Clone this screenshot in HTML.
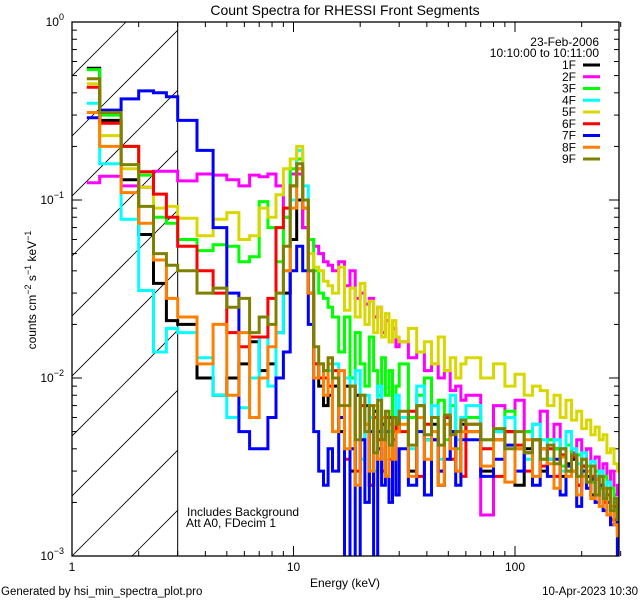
<!DOCTYPE html>
<html><head><meta charset="utf-8">
<style>
html,body{margin:0;padding:0;background:#fff;}
svg{display:block;font-family:"Liberation Sans",sans-serif;}
</style></head>
<body>
<svg id="chart" width="640" height="600" viewBox="0 0 640 600" xmlns="http://www.w3.org/2000/svg">
<defs><clipPath id="plotclip"><rect x="72" y="22" width="547" height="534"/></clipPath>
<clipPath id="hatchclip"><rect x="72" y="22" width="105.7" height="534"/></clipPath></defs>
<rect x="0" y="0" width="640" height="600" fill="#fff"/>
<text x="345" y="15" font-size="14" text-anchor="middle">Count Spectra for RHESSI Front Segments</text>
<g id="hatch" clip-path="url(#hatchclip)"></g>
<g id="axes"></g>
<g id="series" clip-path="url(#plotclip)"></g>
<rect x="72" y="22" width="547" height="534" fill="none" stroke="#000" stroke-width="1.3"/>
<g id="legend"></g>
<text transform="translate(36,290) rotate(-90)" font-size="12" text-anchor="middle">counts cm<tspan dy="-5" font-size="9">−2</tspan><tspan dy="5"> s</tspan><tspan dy="-5" font-size="9">−1</tspan><tspan dy="5"> keV</tspan><tspan dy="-5" font-size="9">−1</tspan></text>
<text x="345" y="587" font-size="12" text-anchor="middle">Energy (keV)</text>
<text x="187" y="516" font-size="12">Includes Background</text>
<text x="186" y="527" font-size="12">Att A0, FDecim 1</text>
<text x="1" y="595" font-size="11.5">Generated by hsi_min_spectra_plot.pro</text>
<text x="638" y="595" font-size="11.5" text-anchor="end">10-Apr-2023 10:30</text>
</svg>
<script>
// ---- data ----
const binSpec = [[1.0,1/3,6],[3.0,2/3,18],[15,1,15],[30,3,10],[60,10,24]];
const segNames = ['1F','2F','3F','4F','5F','6F','7F','8F','9F'];
const segColors = ['#000000','#ff00ff','#00ff00','#00ffff','#d8d800','#ff0000','#0000ff','#ff8000','#808000'];
const s1F = [.55,.28,.13,.064,.034,.021,.02,.01,.008,.01,.012,.016,.011,.012,.018,.03,.06,.1,.07,.03,.012,.009,.007,.008,
 .009,.005,.009,.003,.008,.0045,.007,.0025,.0065,.005,.0055,.0028,.006,.0035,.005,
 .006,.003,.007,.0045,.0055,.0025,.006,.005,.003,.0055,
 .005,.003,.0045,.005,.0025,.004,.0045,.003,.0035,.004,.0028,.0033,.0035,.0025,.0032,.0028,.0022,.0027,.0025,.002,.0022,.0016,.0021,.0015];
const s2F = [.125,.136,.12,.118,.145,.145,.128,.14,.138,.13,.12,.138,.135,.14,.12,.08,.14,.14,.07,.06,.055,.05,.045,.043,
 .04,.045,.033,.04,.028,.03,.026,.028,.022,.025,.018,.021,.016,.019,.015,
 .016,.013,.014,.011,.012,.01,.011,.0085,.009,.0075,
 .008,.0017,.007,.006,.0075,.005,.0055,.0065,.0045,.0055,.004,.005,.0038,.0045,.0035,.004,.0032,.0036,.0028,.0033,.0026,.003,.0022,.0025];
const s3F = [.54,.3,.2,.138,.08,.074,.06,.052,.056,.055,.045,.048,.098,.07,.045,.08,.15,.17,.1,.06,.04,.03,.028,.025,
 .022,.014,.022,.01,.018,.012,.009,.017,.011,.008,.013,.008,.011,.006,.009,
 .012,.006,.008,.01,.005,.0075,.0045,.007,.004,.006,
 .006,.0045,.005,.0065,.004,.005,.0045,.0035,.0045,.004,.0032,.0042,.003,.0037,.0028,.0032,.0026,.003,.0024,.0028,.002,.0024,.0018,.002];
const s4F = [.35,.16,.078,.031,.014,.019,.018,.013,.008,.006,.0068,.01,.017,.009,.018,.04,.1,.19,.12,.04,.012,.012,.011,.011,
 .012,.006,.01,.004,.011,.0035,.008,.006,.003,.009,.005,.0035,.005,.006,.008,
 .006,.004,.009,.0045,.007,.0035,.006,.008,.0045,.006,
 .007,.004,.005,.006,.004,.0035,.0055,.0045,.0035,.0045,.003,.005,.004,.0033,.0038,.003,.0034,.0028,.003,.0022,.0026,.0019,.0021,.0016];
const s5F = [.45,.23,.15,.118,.09,.092,.079,.063,.078,.085,.06,.063,.09,.08,.107,.15,.17,.2,.1,.05,.042,.04,.035,.033,
 .03,.042,.024,.032,.022,.034,.02,.027,.018,.025,.017,.023,.016,.021,.017,
 .016,.019,.014,.016,.012,.017,.011,.013,.01,.012,
 .013,.01,.012,.009,.0105,.008,.009,.0085,.007,.008,.006,.0075,.0058,.0065,.0052,.0058,.0048,.0053,.0045,.0048,.0038,.004,.0033,.003];
const s6F = [.43,.27,.2,.144,.108,.08,.055,.04,.03,.018,.015,.017,.017,.028,.07,.09,.12,.15,.09,.03,.012,.01,.01,.009,
 .011,.006,.0035,.009,.003,.007,.0055,.0025,.006,.0045,.003,.006,.0035,.005,.0055,
 .005,.0065,.0028,.0055,.0045,.003,.006,.0035,.005,.0028,
 .0055,.004,.0028,.005,.0042,.003,.0045,.0032,.004,.0028,.0037,.003,.0036,.0025,.0032,.0026,.0028,.0022,.0025,.002,.0022,.0016,.0019,.0014];
const s7F = [.29,.32,.37,.41,.40,.38,.28,.19,.07,.03,.005,.004,.004,.006,.01,.014,.04,.055,.04,.02,.005,.003,.0025,.004,
 .003,.006,.0008,.004,.0006,.0045,.002,.005,.0007,.004,.0025,.005,.002,.0045,.0022,
 .004,.0025,.005,.0022,.0045,.003,.0035,.005,.0025,.0045,
 .0045,.0028,.0035,.0042,.003,.0038,.0025,.004,.0028,.0035,.0022,.0032,.003,.0019,.003,.0024,.0027,.002,.0025,.0018,.002,.0015,.0016,.0009];
const s8F = [.31,.2,.11,.074,.046,.028,.022,.012,.02,.008,.018,.006,.01,.015,.03,.04,.09,.15,.09,.03,.01,.012,.008,.012,
 .005,.011,.004,.009,.0025,.008,.0055,.003,.007,.0035,.006,.0028,.0055,.0035,.005,
 .0055,.0028,.006,.0035,.005,.0025,.0055,.004,.003,.005,
 .005,.0032,.0045,.0026,.004,.0045,.0028,.004,.0033,.0024,.0036,.0028,.003,.0022,.0028,.003,.0021,.0027,.0019,.0024,.0017,.0019,.0015,.0013];
const s9F = [.48,.31,.158,.092,.05,.043,.04,.03,.032,.025,.028,.018,.022,.02,.03,.055,.12,.16,.1,.04,.015,.012,.011,.013,
 .01,.007,.007,.009,.0045,.008,.005,.007,.0038,.0075,.0045,.0065,.0042,.006,.0055,
 .0065,.0042,.007,.0048,.006,.0042,.0062,.0048,.005,.0058,
 .0055,.0045,.0052,.004,.005,.0038,.0045,.0035,.0042,.0033,.004,.003,.0037,.0028,.0035,.0026,.0032,.0022,.0028,.0021,.0024,.0018,.0021,.0016];
const seriesValues = [s1F,s2F,s3F,s4F,s5F,s6F,s7F,s8F,s9F];
const yTickExps = ['0','−1','−2','−3'];
const xTickLabels = ['1','10','100'];

// ---- scales ----
const X0=72, X1=619, Y0=22, Y1=556;
const xs = e => 72 + 221.5*Math.log10(e);
const ys = v => 22 - 178*Math.log10(v);
const NS='http://www.w3.org/2000/svg';
function mk(tag, attrs, parent){const el=document.createElementNS(NS,tag);for(const k in attrs)el.setAttribute(k,attrs[k]);parent.appendChild(el);return el;}

const edges=[];
binSpec.forEach(([s,w,n],i)=>{for(let k=0;k<n;k++)edges.push(s+w*k);});
edges.push(300);

// hatch
const hatch=document.getElementById('hatch');
for(let k=-10;k<12;k++){
  const xb=72+k*60;
  const l=mk('line',{x1:xb,y1:556,x2:xb+534,y2:22,stroke:'#000','stroke-width':0.8},hatch);
  
  
}
const axes=document.getElementById('axes');
const vl=mk('line',{x1:xs(3),y1:Y0,x2:xs(3),y2:Y1,stroke:'#000','stroke-width':1},axes);



// x ticks
for(let d=0;d<3;d++){for(let m=1;m<10;m++){
  const e=m*Math.pow(10,d); if(e>300)continue;
  const x=xs(e), len=m===1?10:5;
  const t1=mk('line',{x1:x,y1:Y1,x2:x,y2:Y1-len,stroke:'#000'},axes);
  
  
  const t2=mk('line',{x1:x,y1:Y0,x2:x,y2:Y0+len,stroke:'#000'},axes);
  
  
}}
xTickLabels.forEach((lab,i)=>{
  const t=mk('text',{x:xs(Math.pow(10,i)),y:571,'font-size':12,'text-anchor':'middle'},axes);
  t.textContent=lab;
  
  
});
// y ticks
for(let d=0;d<3;d++){for(let m=1;m<=10;m++){
  const v=m*Math.pow(10,-(d+1)); const y=ys(v); const len=(m===1||m===10)?10:5;
  const a=mk('line',{x1:X0,y1:y,x2:X0+len,y2:y,stroke:'#000'},axes);
  
  
  const b=mk('line',{x1:X1,y1:y,x2:X1-len,y2:y,stroke:'#000'},axes);
  
  
}}
yTickExps.forEach((ex,i)=>{
  const t=mk('text',{x:64,y:ys(Math.pow(10,-i))+4,'font-size':12,'text-anchor':'end'},axes);
  
  
  t.textContent='10';
  const sp=mk('tspan',{dy:-6,'font-size':9},t); sp.textContent=ex;
});

// series
const sg=document.getElementById('series');
seriesValues.forEach((vals,si)=>{
  const c0=(edges[0]+edges[1])/2;
  let d='M'+xs(c0).toFixed(1)+','+ys(vals[0]).toFixed(1);
  for(let i=0;i<vals.length;i++){
    const y=Math.min(ys(vals[i]),600);
    if(i>0) d+='V'+y.toFixed(1);
    d+='H'+xs(edges[i+1]).toFixed(1);
  }
  const p=mk('path',{d:d,fill:'none',stroke:segColors[si],'stroke-width':3,'stroke-linejoin':'miter'},sg);
  
  
});

// legend
const lg=document.getElementById('legend');
const d1=mk('text',{x:599,y:46,'font-size':12,'text-anchor':'end'},lg); d1.textContent='23-Feb-2006';


const d2=mk('text',{x:599,y:57,'font-size':12,'text-anchor':'end'},lg); d2.textContent='10:10:00 to 10:11:00';


segNames.forEach((n,i)=>{
  const y=65+i*11.75;
  const t=mk('text',{x:576,y:y+4,'font-size':12,'text-anchor':'end'},lg); t.textContent=n;
  
  
  const l=mk('line',{x1:583,y1:y,x2:600,y2:y,stroke:segColors[i],'stroke-width':3},lg);
  
  
});
</script>
</body></html>
